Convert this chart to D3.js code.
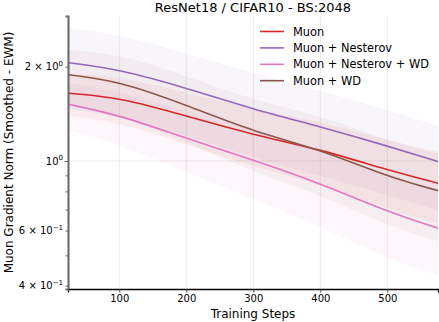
<!DOCTYPE html>
<html>
<head>
<meta charset="utf-8">
<script src="https://cdn.jsdelivr.net/npm/d3@7"></script>
<style>
  body { margin: 0; background: #fff; }
  text { font-family: "DejaVu Sans", sans-serif; }
</style>
</head>
<body>
<div class="chart"></div>
<script>
// values
const steps = [24, 100, 200, 300, 400, 500, 576];

const muon          = [1.645, 1.597, 1.392, 1.211, 1.090, 0.936, 0.849];
const muonNesterov  = [2.060, 1.962, 1.710, 1.462, 1.287, 1.117, 0.995];
const muonNestWD    = [1.517, 1.402, 1.182, 1.007, 0.849, 0.689, 0.610];
const muonWD        = [1.886, 1.800, 1.509, 1.240, 1.090, 0.891, 0.804];

// std bands (mean +/- std)
const muonStd         = [0.25, 0.27, 0.26, 0.25, 0.25, 0.23, 0.22];
const muonNesterovStd = [0.60, 0.57, 0.50, 0.44, 0.39, 0.34, 0.30];
const muonNestWDStd   = [0.26, 0.27, 0.26, 0.25, 0.23, 0.20, 0.18];
const muonWDStd       = [0.38, 0.40, 0.36, 0.32, 0.31, 0.27, 0.25];

const seriesNames = ["Muon", "Muon + Nesterov", "Muon + Nesterov + WD", "Muon + WD"];
const colors = ["#d62728", "#9467bd", "#e377c2", "#8c564b"];

const xTicks = [100, 200, 300, 400, 500];
const yMajor = [1];
const yMinor = [0.4, 0.5, 0.6, 0.7, 0.8, 0.9, 2];
const yLabels = [
  { v: 2, m: "2 × 10", e: "0" },
  { v: 1, m: "10", e: "0" },
  { v: 0.6, m: "6 × 10", e: "−1" },
  { v: 0.4, m: "4 × 10", e: "−1" }
];

const width = 439, height = 322;
const margin = { top: 16, right: 1, bottom: 33, left: 68 };

const svg = d3.select(".chart").append("svg")
  .attr("width", width)
  .attr("height", height);

const x = d3.scaleLinear().domain([23.5, 575.6]).range([margin.left, width - margin.right]);
const y = d3.scaleLog().domain([0.3904, 2.903]).range([height - margin.bottom, margin.top]);

// grid
svg.selectAll(".vgrid").data(xTicks).enter().append("line")
  .attr("x1", d => x(d)).attr("x2", d => x(d))
  .attr("y1", margin.top).attr("y2", height - margin.bottom)
  .attr("stroke", "#ebebeb").attr("stroke-width", 1);
svg.selectAll(".hgrid").data(yMajor).enter().append("line")
  .attr("x1", margin.left).attr("x2", width - margin.right)
  .attr("y1", d => y(d)).attr("y2", d => y(d))
  .attr("stroke", "#ebebeb").attr("stroke-width", 1);

const series = [
  { name: seriesNames[0], vals: muon, std: muonStd, color: colors[0] },
  { name: seriesNames[1], vals: muonNesterov, std: muonNesterovStd, color: colors[1] },
  { name: seriesNames[2], vals: muonNestWD, std: muonNestWDStd, color: colors[2] },
  { name: seriesNames[3], vals: muonWD, std: muonWDStd, color: colors[3] }
];

svg.append("clipPath").attr("id", "clip").append("rect")
  .attr("x", margin.left).attr("y", margin.top)
  .attr("width", width - margin.left - margin.right)
  .attr("height", height - margin.top - margin.bottom);

const plot = svg.append("g").attr("clip-path", "url(#clip)");

const area = d3.area()
  .x(d => x(d.s))
  .y0(d => y(d.v - d.sd))
  .y1(d => y(d.v + d.sd))
  .curve(d3.curveBasis);

const line = d3.line()
  .x(d => x(d.s))
  .y(d => y(d.v))
  .curve(d3.curveBasis);

series.forEach(function(s) {
  const pts = steps.map((st, i) => ({ s: st, v: s.vals[i], sd: s.std[i] }));
  plot.append("path").datum(pts)
    .attr("d", area)
    .attr("fill", s.color)
    .attr("fill-opacity", 0.06);
});
series.forEach(function(s) {
  const pts = steps.map((st, i) => ({ s: st, v: s.vals[i], sd: s.std[i] }));
  plot.append("path").datum(pts)
    .attr("d", line)
    .attr("fill", "none")
    .attr("stroke", s.color)
    .attr("stroke-width", 1.6);
});

// x axis
const xAxis = svg.append("g")
  .attr("transform", "translate(0," + (height - margin.bottom) + ")")
  .call(d3.axisBottom(x).tickValues(xTicks).tickSize(3.5).tickPadding(2.5));
xAxis.select(".domain").attr("stroke", "#000").attr("stroke-width", 1.3);
xAxis.selectAll(".tick line").attr("stroke", "#444");
xAxis.selectAll(".tick text").attr("font-size", "10px").attr("fill", "#000")
  .attr("font-family", "DejaVu Sans");

// y axis
const yAxis = svg.append("g")
  .attr("transform", "translate(" + margin.left + ",0)")
  .call(d3.axisLeft(y).tickValues(yMajor.concat(yMinor)).tickSize(2.5).tickFormat(""));
yAxis.select(".domain").attr("stroke", "#666").attr("stroke-width", 2);
yAxis.selectAll(".tick line").attr("stroke", "#666");
yAxis.selectAll(".tick").filter(d => d === 1).select("line").attr("x2", -3.5);

const yl = svg.selectAll(".ylab").data(yLabels).enter().append("text")
  .attr("x", margin.left - 5)
  .attr("y", d => y(d.v) + 3.5)
  .attr("text-anchor", "end")
  .attr("font-size", "10px")
  .attr("fill", "#000");
yl.append("tspan").text(d => d.m);
yl.append("tspan").text(d => d.e).attr("font-size", "7px").attr("dy", -4.5);

// titles
svg.append("text")
  .attr("x", (margin.left + width - margin.right) / 2)
  .attr("y", 12)
  .attr("text-anchor", "middle")
  .attr("font-size", "13px")
  .text("ResNet18 / CIFAR10 - BS:2048");

svg.append("text")
  .attr("x", (margin.left + width - margin.right) / 2)
  .attr("y", 318)
  .attr("text-anchor", "middle")
  .attr("font-size", "12px")
  .text("Training Steps");

svg.append("text")
  .attr("transform", "translate(13," + ((margin.top + height - margin.bottom) / 2) + ") rotate(-90)")
  .attr("text-anchor", "middle")
  .attr("font-size", "12px")
  .text("Muon Gradient Norm (Smoothed - EWM)");

// legend
const legend = svg.append("g").attr("transform", "translate(260,31.5)");
series.forEach(function(s, i) {
  legend.append("line")
    .attr("x1", 0).attr("x2", 24)
    .attr("y1", i * 16.4).attr("y2", i * 16.4)
    .attr("stroke", s.color).attr("stroke-width", 1.6);
  legend.append("text")
    .attr("x", 33).attr("y", i * 16.4 + 4)
    .attr("font-size", "11.4px")
    .text(s.name);
});
</script>
</body>
</html>
